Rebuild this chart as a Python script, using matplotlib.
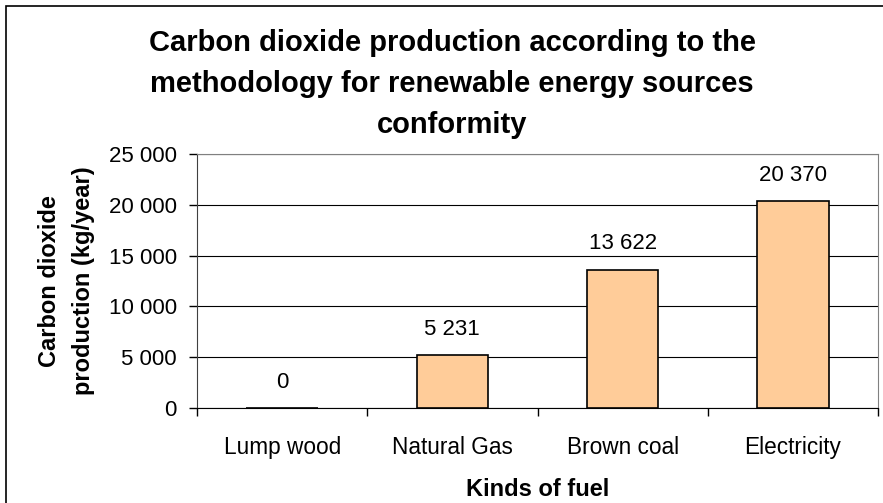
"""Bar chart: CO2 production by kind of fuel."""

import matplotlib.pyplot as plt
import numpy as np
from matplotlib.patches import Rectangle
from matplotlib.ticker import FuncFormatter

plt.rcParams["font.family"] = ["Liberation Sans", "DejaVu Sans"]

fuels = ["Lump wood", "Natural Gas", "Brown coal", "Electricity"]
co2_kg_year = [0, 5231, 13622, 20370]
y_ticks = [0, 5000, 10000, 15000, 20000, 25000]


def spaced(value, _pos=None):
    return f"{int(value):,}".replace(",", " ")


fig = plt.figure(figsize=(8.83, 5.03), dpi=100)
ax = fig.add_axes([197 / 883, 1 - 408 / 503, 681 / 883, 254 / 503])

x = np.arange(len(fuels))
bars = ax.bar(x, co2_kg_year, width=0.42, color="#FFCC99",
              edgecolor="black", linewidth=1.2, zorder=3)
for rect, val in zip(bars, co2_kg_year):
    ax.annotate(spaced(val), (rect.get_x() + rect.get_width() / 2, val),
                xytext=(0, 18.5), textcoords="offset points",
                ha="center", va="center", fontsize=16)

ax.set_xlim(-0.5, len(fuels) - 0.5)
ax.set_ylim(0, 25000)
ax.set_yticks(y_ticks)
ax.yaxis.set_major_formatter(FuncFormatter(spaced))
ax.yaxis.grid(True, color="black", linewidth=0.8, zorder=0)

ax.set_xticks(x)
ax.set_xticklabels(fuels)
ax.set_xticks(np.arange(len(fuels) + 1) - 0.5, minor=True)
ax.tick_params(axis="x", which="major", length=0, pad=20, labelsize=16.3)
ax.tick_params(axis="x", which="minor", length=6, direction="out",
               color="black", width=1)
ax.tick_params(axis="y", length=6, direction="out", width=1,
               labelsize=16, pad=8.5)

for side in ("top", "right"):
    ax.spines[side].set_color("#808080")
ax.spines["left"].set_color("#404040")
ax.spines["bottom"].set_color("black")

ax.set_xlabel("Kinds of fuel", fontsize=17, fontweight="bold", labelpad=13.5)
ax.set_ylabel("Carbon dioxide\nproduction (kg/year)", fontsize=17,
              fontweight="bold", labelpad=10, linespacing=1.6)

fig.text(452 / 883, 1 - 84 / 503,
         "Carbon dioxide production according to the\n"
         "methodology for renewable energy sources\nconformity",
         ha="center", va="center", fontsize=21, fontweight="bold",
         linespacing=1.6)

fig.patches.append(Rectangle((6 / 883, -0.1), 1.2, 1 - 6 / 503 + 0.1,
                             transform=fig.transFigure, fill=False,
                             edgecolor="black", linewidth=1.2))

fig.savefig("out.png", dpi=100)
